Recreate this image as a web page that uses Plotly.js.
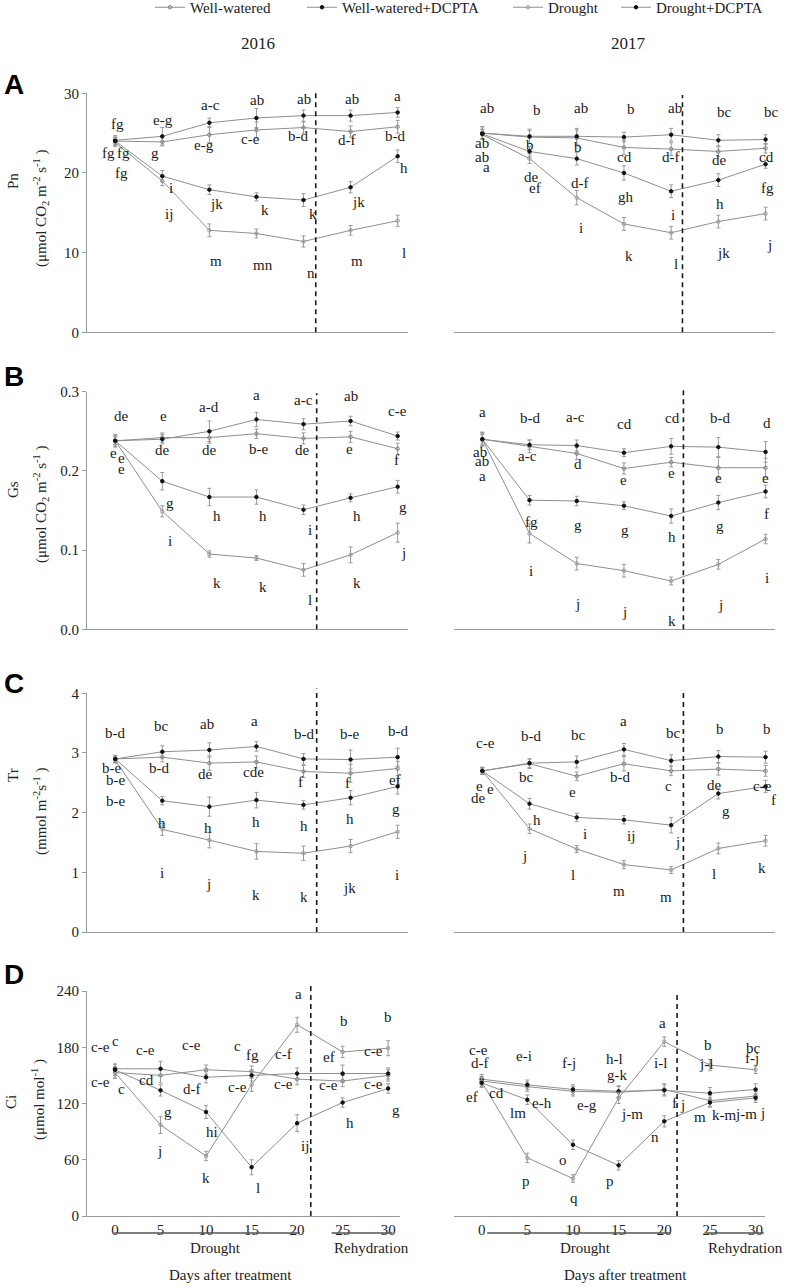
<!DOCTYPE html>
<html><head><meta charset="utf-8">
<script src="https://cdn.plot.ly/plotly-3.0.1.min.js"></script>
<style>html,body{margin:0;padding:0;background:#fff}#chart{width:787px;height:1286px}</style>
</head><body>
<div id="chart"></div>
<script>
// ---------------- DATA ----------------
const days = [0, 5, 10, 15, 20, 25, 30];
const seriesNames = ['Well-watered', 'Well-watered+DCPTA', 'Drought', 'Drought+DCPTA'];
const xTickVals = [0, 5, 10, 15, 20, 25, 30];

// Pn 2016
const Pn2016_WW  = [24.0, 23.9, 24.8, 25.4, 25.7, 25.2, 25.8];
const Pn2016_WWD = [24.1, 24.6, 26.3, 26.9, 27.2, 27.2, 27.6];
const Pn2016_D   = [23.8, 19.0, 12.8, 12.4, 11.4, 12.8, 14.0];
const Pn2016_DD  = [24.0, 19.6, 17.9, 17.0, 16.6, 18.2, 22.1];
const Pn2016_WW_err  = [0.5, 0.5, 1.0, 1.0, 0.7, 0.7, 0.8];
const Pn2016_WWD_err = [0.6, 1.1, 0.6, 1.2, 0.7, 0.7, 0.6];
const Pn2016_D_err   = [0.5, 0.6, 0.8, 0.55, 0.7, 0.6, 0.7];
const Pn2016_DD_err  = [0.5, 0.7, 0.6, 0.5, 0.8, 0.7, 0.8];
const Pn2016_labText = ['fg','fg','fg','fg', 'e-g','g','i','ij', 'a-c','e-g','jk','m', 'ab','c-e','k','mn', 'ab','b-d','k','n', 'ab','d-f','jk','m', 'a','b-d','h','l'];
const Pn2016_labDay  = [0.25,-0.7,0.9,0.7, 5.1,4.2,5.9,5.7, 10.1,9.4,10.8,10.7, 15.1,14.4,15.9,15.7, 20.0,19.4,21.0,20.8, 25.1,24.6,25.8,25.7, 30.0,29.7,30.7,30.7];
const Pn2016_labY    = [26.2,22.5,22.5,20.0, 26.6,22.5,18.1,14.9, 28.5,23.5,16.1,8.9, 29.1,24.3,15.4,8.5, 29.3,24.6,14.9,7.4, 29.3,24.1,16.4,8.9, 29.7,24.6,20.6,10.0];

// Pn 2017
const Pn2017_WW  = [25.0, 24.5, 24.4, 23.2, 23.0, 22.7, 23.1];
const Pn2017_WWD = [25.0, 24.6, 24.6, 24.5, 24.8, 24.1, 24.2];
const Pn2017_D   = [24.8, 21.8, 16.9, 13.6, 12.5, 13.9, 14.9];
const Pn2017_DD  = [24.9, 22.7, 21.8, 20.0, 17.7, 19.1, 21.1];
const Pn2017_WW_err  = [0.8, 0.8, 1.0, 0.9, 0.8, 0.6, 0.6];
const Pn2017_WWD_err = [0.8, 0.9, 1.0, 0.6, 0.8, 0.7, 0.6];
const Pn2017_D_err   = [0.6, 0.6, 0.9, 0.8, 0.8, 0.8, 0.8];
const Pn2017_DD_err  = [0.6, 0.6, 0.8, 0.9, 0.8, 0.8, 0.5];
const Pn2017_labText = ['ab','ab','ab','a', 'b','b','de','ef', 'ab','b','d-f','i', 'b','cd','gh','k', 'ab','d-f','i','l', 'bc','de','h','jk', 'bc','cd','fg','j'];
const Pn2017_labDay  = [0.5,0.0,0.0,0.4, 5.8,5.0,5.2,5.6, 10.5,10.1,10.3,10.5, 15.7,15.1,15.2,15.5, 20.4,20.0,20.2,20.5, 25.7,25.1,25.2,25.5, 30.6,30.1,30.2,30.4];
const Pn2017_labY    = [28.1,23.8,22.0,20.8, 27.9,23.5,19.5,18.1, 28.1,23.2,18.8,13.1, 28.0,22.0,17.0,9.6, 28.1,22.0,14.7,8.6, 27.6,21.6,16.1,10.0, 27.7,22.0,18.1,11.0];

// Gs 2016
const Gs2016_WW  = [0.238, 0.242, 0.242, 0.247, 0.241, 0.243, 0.228];
const Gs2016_WWD = [0.238, 0.240, 0.250, 0.265, 0.259, 0.263, 0.244];
const Gs2016_D   = [0.238, 0.149, 0.095, 0.090, 0.075, 0.094, 0.122];
const Gs2016_DD  = [0.238, 0.187, 0.167, 0.167, 0.151, 0.166, 0.180];
const Gs2016_WW_err  = [0.007, 0.006, 0.007, 0.006, 0.007, 0.007, 0.007];
const Gs2016_WWD_err = [0.008, 0.006, 0.013, 0.009, 0.007, 0.006, 0.005];
const Gs2016_D_err   = [0.005, 0.007, 0.004, 0.003, 0.008, 0.010, 0.012];
const Gs2016_DD_err  = [0.005, 0.011, 0.011, 0.009, 0.006, 0.005, 0.008];
const Gs2016_labText = ['de','e','e','e', 'e','de','g','i', 'a-d','de','h','k', 'a','b-e','h','k', 'a-c','de','i','l', 'ab','e','h','k', 'c-e','f','g','j'];
const Gs2016_labDay  = [0.7,-0.2,0.7,0.7, 5.1,5.0,5.8,5.8, 10.0,10.0,10.8,10.8, 15.0,15.2,15.7,15.7, 20.0,19.9,20.7,20.7, 25.0,24.9,25.7,25.7, 30.0,29.9,30.6,30.6];
const Gs2016_labY    = [0.269,0.223,0.216,0.203, 0.269,0.227,0.160,0.111, 0.281,0.226,0.143,0.058, 0.296,0.228,0.143,0.053, 0.289,0.226,0.125,0.037, 0.294,0.228,0.143,0.058, 0.276,0.214,0.155,0.096];

// Gs 2017
const Gs2017_WW  = [0.240, 0.231, 0.222, 0.203, 0.211, 0.204, 0.204];
const Gs2017_WWD = [0.240, 0.233, 0.232, 0.223, 0.231, 0.230, 0.224];
const Gs2017_D   = [0.240, 0.121, 0.083, 0.074, 0.061, 0.082, 0.114];
const Gs2017_DD  = [0.240, 0.163, 0.162, 0.156, 0.143, 0.160, 0.174];
const Gs2017_WW_err  = [0.008, 0.008, 0.008, 0.007, 0.006, 0.013, 0.012];
const Gs2017_WWD_err = [0.009, 0.006, 0.007, 0.005, 0.010, 0.012, 0.013];
const Gs2017_D_err   = [0.008, 0.012, 0.008, 0.008, 0.005, 0.006, 0.006];
const Gs2017_DD_err  = [0.006, 0.006, 0.006, 0.005, 0.009, 0.009, 0.008];
const Gs2017_labText = ['a','ab','ab','a', 'b-d','a-c','fg','i', 'a-c','d','g','j', 'cd','e','g','j', 'cd','e','h','k', 'b-d','e','g','j', 'd','e','f','i'];
const Gs2017_labDay  = [0,-0.2,0,0, 5.1,4.8,5.2,5.2, 9.9,10.1,10.1,10.1, 15.1,15.0,15.1,15.1, 20.1,20.0,20.1,20.1, 25.2,25.0,25.2,25.2, 30.1,30.0,30.1,30.2];
const Gs2017_labY    = [0.275,0.224,0.212,0.193, 0.267,0.219,0.135,0.073, 0.268,0.209,0.132,0.032, 0.259,0.189,0.125,0.022, 0.267,0.197,0.116,0.011, 0.267,0.191,0.130,0.031, 0.260,0.191,0.146,0.065];

// Tr 2016
const Tr2016_WW  = [2.90, 2.93, 2.83, 2.85, 2.69, 2.66, 2.74];
const Tr2016_WWD = [2.90, 3.02, 3.05, 3.11, 2.90, 2.89, 2.93];
const Tr2016_D   = [2.88, 1.72, 1.54, 1.35, 1.32, 1.44, 1.68];
const Tr2016_DD  = [2.90, 2.20, 2.10, 2.21, 2.13, 2.25, 2.44];
const Tr2016_WW_err  = [0.06, 0.08, 0.12, 0.10, 0.10, 0.15, 0.12];
const Tr2016_WWD_err = [0.06, 0.10, 0.12, 0.08, 0.09, 0.16, 0.15];
const Tr2016_D_err   = [0.05, 0.10, 0.13, 0.13, 0.12, 0.11, 0.11];
const Tr2016_DD_err  = [0.05, 0.07, 0.16, 0.13, 0.07, 0.12, 0.13];
const Tr2016_labText = ['b-d','b-e','b-e','b-e', 'bc','b-d','h','i', 'ab','de','h','j', 'a','cde','h','k', 'b-d','f','h','k', 'b-e','f','h','jk', 'b-d','ef','g','i'];
const Tr2016_labDay  = [0,-0.4,0,0, 4.9,4.7,5.0,5.0, 9.8,9.6,9.9,9.9, 14.8,14.7,14.9,14.9, 20.0,19.7,20.0,20.0, 24.9,24.7,24.9,24.9, 30.0,29.7,29.8,29.9];
const Tr2016_labY    = [3.33,2.74,2.54,2.20, 3.45,2.74,1.83,0.99, 3.48,2.64,1.75,0.80, 3.53,2.68,1.85,0.62, 3.32,2.52,1.77,0.59, 3.32,2.50,1.89,0.73, 3.37,2.55,2.06,0.96];

// Tr 2017
const Tr2017_WW  = [2.70, 2.82, 2.61, 2.82, 2.70, 2.73, 2.70];
const Tr2017_WWD = [2.70, 2.83, 2.85, 3.06, 2.87, 2.94, 2.93];
const Tr2017_D   = [2.70, 1.73, 1.39, 1.13, 1.04, 1.40, 1.53];
const Tr2017_DD  = [2.70, 2.15, 1.92, 1.88, 1.79, 2.32, 2.44];
const Tr2017_WW_err  = [0.06, 0.08, 0.07, 0.12, 0.08, 0.10, 0.09];
const Tr2017_WWD_err = [0.06, 0.07, 0.10, 0.10, 0.10, 0.10, 0.10];
const Tr2017_D_err   = [0.05, 0.08, 0.06, 0.07, 0.06, 0.09, 0.09];
const Tr2017_DD_err  = [0.05, 0.09, 0.07, 0.07, 0.13, 0.09, 0.10];
const Tr2017_labText = ['c-e','e','e','de', 'b-d','bc','h','j', 'bc','e','i','l', 'a','b-d','ij','m', 'bc','c','j','m', 'b','de','g','l', 'b','c-e','f','k'];
const Tr2017_labDay  = [0.3,-0.3,0.9,-0.4, 5.2,4.7,5.8,4.5, 10.2,9.6,10.9,9.6, 15.0,14.6,15.8,14.5, 20.2,19.7,20.7,19.5, 25.2,24.6,25.8,24.5, 30.1,29.7,30.8,29.6];
const Tr2017_labY    = [3.17,2.44,2.40,2.24, 3.29,2.59,1.88,1.27, 3.30,2.35,1.65,0.96, 3.53,2.59,1.61,0.68, 3.33,2.44,1.51,0.59, 3.40,2.47,2.03,0.97, 3.40,2.45,2.21,1.07];

// Ci 2016
const Ci2016_WW  = [153, 150, 156, 154, 146, 144, 150];
const Ci2016_WWD = [157, 157, 148, 150, 152, 152, 152];
const Ci2016_D   = [153, 97, 64, 140, 204, 175, 179];
const Ci2016_DD  = [156, 134, 111, 52, 99, 121, 136];
const Ci2016_WW_err  = [6, 8, 5, 6, 6, 6, 6];
const Ci2016_WWD_err = [5, 8, 6, 6, 6, 9, 6];
const Ci2016_D_err   = [6, 9, 5, 7, 8, 6, 8];
const Ci2016_DD_err  = [6, 6, 7, 8, 9, 5, 5];
const Ci2016_labText = ['c-e','c','c-e','c', 'c-e','cd','g','j', 'c-e','d-f','hi','k', 'c','fg','c-e','l', 'a','c-f','c-e','ij', 'b','ef','c-e','h', 'b','c-e','c-e','g'];
const Ci2016_labDay  = [-1.6,0,-1.6,0.7, 3.3,3.5,5.8,4.9, 8.4,8.5,10.7,10.0, 13.4,15.1,13.5,15.7, 20.1,18.5,18.5,20.9, 25.1,23.5,23.5,25.8, 30.0,28.4,28.4,30.9];
const Ci2016_labY    = [180.6,186.7,143.3,135.5, 177.1,145.1,111.3,69.7, 182.4,135.1,89.2,40.2, 181.3,171.7,137.2,29.5, 236.4,172.8,140.8,74.7, 208.4,170.0,139.7,99.6, 211.9,176.4,140.8,113.1];

// Ci 2017
const Ci2017_WW  = [144, 138, 133, 132, 135, 123, 128];
const Ci2017_WWD = [146, 140, 135, 133, 134, 131, 135];
const Ci2017_D   = [143, 62, 40, 126, 186, 161, 156];
const Ci2017_DD  = [142, 124, 76, 54, 101, 121, 126];
const Ci2017_WW_err  = [5, 5, 5, 6, 6, 6, 5];
const Ci2017_WWD_err = [5, 5, 5, 6, 6, 6, 6];
const Ci2017_D_err   = [5, 5, 4, 6, 5, 6, 4];
const Ci2017_DD_err  = [5, 5, 5, 5, 6, 5, 5];
const Ci2017_labText = ['c-e','d-f','ef','cd', 'e-i','e-h','lm','p', 'f-j','e-g','o','q', 'h-l','g-k','j-m','p', 'a','i-l','f','j','n', 'b','j-l','m','k-m', 'bc','f-j','j-m','j'];
const Ci2017_labDay  = [-0.4,-0.2,-1.1,1.6, 4.6,6.6,4.0,4.9, 9.6,11.5,8.9,10.1, 14.6,14.8,16.5,14.0, 19.8,19.6,21.1,22.0,19.0, 24.8,24.6,23.9,26.5, 29.75,29.6,28.9,30.8];
const Ci2017_labY    = [177.1,163.6,127.3,130.8, 170.7,120.9,109.5,37.7, 163.6,118.4,59.7,18.8, 167.1,150.4,108.4,37.7, 206.2,163.6,120.5,118.4,84.6, 182.4,162.1,105.2,107.7, 178.8,168.2,108.8,109.5];

// ---------------- LAYOUT / STYLE ----------------
const W = 787, H = 1286;
const SERIF = 'Liberation Serif';
const SANS = 'Liberation Sans';
const px2x = p => p / W;
const px2y = p => 1 - p / H;

const panels = [
  {vals:[Pn2016_WW,Pn2016_WWD,Pn2016_D,Pn2016_DD], errs:[Pn2016_WW_err,Pn2016_WWD_err,Pn2016_D_err,Pn2016_DD_err], lab:[Pn2016_labText,Pn2016_labDay,Pn2016_labY],
   xpx:[87,408], ypx:[93.3,332.3], xr:[-3.0,31.1], yr:[0,30], dtick:10, fmt:'', left:true, bottom:false, dashDay:21.3, dashTop:30},
  {vals:[Pn2017_WW,Pn2017_WWD,Pn2017_D,Pn2017_DD], errs:[Pn2017_WW_err,Pn2017_WWD_err,Pn2017_D_err,Pn2017_DD_err], lab:[Pn2017_labText,Pn2017_labDay,Pn2017_labY],
   xpx:[454,775], ypx:[93.3,332.3], xr:[-3.0,31.0], yr:[0,30], dtick:10, fmt:'', left:false, bottom:false, dashDay:21.2, dashTop:29.8},
  {vals:[Gs2016_WW,Gs2016_WWD,Gs2016_D,Gs2016_DD], errs:[Gs2016_WW_err,Gs2016_WWD_err,Gs2016_D_err,Gs2016_DD_err], lab:[Gs2016_labText,Gs2016_labDay,Gs2016_labY],
   xpx:[87,408], ypx:[391.7,629.3], xr:[-3.0,31.1], yr:[0,0.3], dtick:0.1, fmt:'.1f', left:true, bottom:false, dashDay:21.4, dashTop:0.298},
  {vals:[Gs2017_WW,Gs2017_WWD,Gs2017_D,Gs2017_DD], errs:[Gs2017_WW_err,Gs2017_WWD_err,Gs2017_D_err,Gs2017_DD_err], lab:[Gs2017_labText,Gs2017_labDay,Gs2017_labY],
   xpx:[454,775], ypx:[391.7,629.3], xr:[-3.0,31.0], yr:[0,0.3], dtick:0.1, fmt:'.1f', left:false, bottom:false, dashDay:21.3, dashTop:0.305},
  {vals:[Tr2016_WW,Tr2016_WWD,Tr2016_D,Tr2016_DD], errs:[Tr2016_WW_err,Tr2016_WWD_err,Tr2016_D_err,Tr2016_DD_err], lab:[Tr2016_labText,Tr2016_labDay,Tr2016_labY],
   xpx:[87,408], ypx:[693.3,932], xr:[-3.0,31.1], yr:[0,4], dtick:1, fmt:'', left:true, bottom:false, dashDay:21.4, dashTop:4.08},
  {vals:[Tr2017_WW,Tr2017_WWD,Tr2017_D,Tr2017_DD], errs:[Tr2017_WW_err,Tr2017_WWD_err,Tr2017_D_err,Tr2017_DD_err], lab:[Tr2017_labText,Tr2017_labDay,Tr2017_labY],
   xpx:[454,775], ypx:[693.3,932], xr:[-3.0,31.0], yr:[0,4], dtick:1, fmt:'', left:false, bottom:false, dashDay:21.3, dashTop:4.06},
  {vals:[Ci2016_WW,Ci2016_WWD,Ci2016_D,Ci2016_DD], errs:[Ci2016_WW_err,Ci2016_WWD_err,Ci2016_D_err,Ci2016_DD_err], lab:[Ci2016_labText,Ci2016_labDay,Ci2016_labY],
   xpx:[87,400], ypx:[991,1216], xr:[-3.08,31.3], yr:[0,240], dtick:60, fmt:'', left:true, bottom:true, dashDay:21.5, dashTop:249.6},
  {vals:[Ci2017_WW,Ci2017_WWD,Ci2017_D,Ci2017_DD], errs:[Ci2017_WW_err,Ci2017_WWD_err,Ci2017_D_err,Ci2017_DD_err], lab:[Ci2017_labText,Ci2017_labDay,Ci2017_labY],
   xpx:[454,765], ypx:[991,1216], xr:[-3.03,31.03], yr:[0,240], dtick:60, fmt:'', left:false, bottom:true, dashDay:21.4, dashTop:235.7}
];

const LINE_COLOR = '#8f8f8f';
const styles = [
  {symbol:'circle-open', color:'#808080', size:3.5},
  {symbol:'circle', color:'#111111', size:3.5},
  {symbol:'circle-open', color:'#9a9a9a', size:3.5},
  {symbol:'circle', color:'#111111', size:3.5}
];
const legendIds = ['legend','legend2','legend3','legend4'];
const legendX = [150, 302, 508, 616];

const traces = [];
const annotations = [];
const shapes = [];
const layout = {
  width: W, height: H,
  margin: {l:0, r:0, t:0, b:0, autoexpand: false},
  paper_bgcolor: '#fff', plot_bgcolor: 'rgba(0,0,0,0)',
  showlegend: true,
  font: {family: SERIF, size: 15, color: '#222'}
};

legendIds.forEach((id, i) => {
  layout[id] = {
    x: px2x(legendX[i]), xanchor: 'left', y: 1 + 9 / H, yanchor: 'top',
    orientation: 'h', bgcolor: 'rgba(0,0,0,0)', borderwidth: 0,
    font: {family: SERIF, size: 15, color: '#222'}
  };
});

function paperX(p, v) {
  const d0 = px2x(p.xpx[0]), d1 = px2x(p.xpx[1]);
  return d0 + (v - p.xr[0]) / (p.xr[1] - p.xr[0]) * (d1 - d0);
}
function paperY(p, v) {
  const d0 = px2y(p.ypx[1]), d1 = px2y(p.ypx[0]);
  return d0 + (v - p.yr[0]) / (p.yr[1] - p.yr[0]) * (d1 - d0);
}

panels.forEach((p, k) => {
  const n = k + 1;
  const xa = n === 1 ? 'x' : 'x' + n;
  const ya = n === 1 ? 'y' : 'y' + n;
  const xKey = n === 1 ? 'xaxis' : 'xaxis' + n;
  const yKey = n === 1 ? 'yaxis' : 'yaxis' + n;
  layout[xKey] = {
    domain: [px2x(p.xpx[0]), px2x(p.xpx[1])], range: p.xr, anchor: ya,
    showline: true, linecolor: '#9a9a9a', linewidth: 1.2,
    showgrid: false, zeroline: false, ticks: '',
    showticklabels: p.bottom, tickvals: xTickVals,
    tickfont: {family: SERIF, size: 15, color: '#222'}
  };
  layout[yKey] = {
    domain: [px2y(p.ypx[1]), px2y(p.ypx[0])], range: p.yr, anchor: xa,
    visible: p.left,
    showline: true, linecolor: '#9a9a9a', linewidth: 1.2,
    showgrid: false, zeroline: false,
    ticks: 'outside', ticklen: 4, tickcolor: '#9a9a9a',
    dtick: p.dtick, tick0: 0, tickformat: p.fmt,
    tickfont: {family: SERIF, size: 15, color: '#222'}
  };
  p.vals.forEach((v, s) => {
    const st = styles[s];
    traces.push({
      type: 'scatter', mode: 'lines+markers',
      x: days, y: v, xaxis: xa, yaxis: ya,
      name: seriesNames[s],
      legend: legendIds[s],
      showlegend: k === 0,
      cliponaxis: false,
      line: {color: LINE_COLOR, width: 1},
      marker: {symbol: st.symbol, color: st.color, size: st.size, line: {color: st.color, width: 1}},
      error_y: {type: 'data', array: p.errs[s], visible: true, color: '#9a9a9a', thickness: 1, width: 2}
    });
  });
  const [txt, dx, dy] = p.lab;
  txt.forEach((t, i) => {
    annotations.push({
      xref: xa, yref: ya, x: dx[i], y: dy[i], text: t, showarrow: false,
      xanchor: 'center', yanchor: 'middle',
      font: {family: SERIF, size: 15, color: '#1a1a1a'}
    });
  });
  // rehydration start: dashed line
  const xd = paperX(p, p.dashDay);
  shapes.push({
    type: 'line', xref: 'paper', yref: 'paper',
    x0: xd, x1: xd, y0: paperY(p, 0), y1: paperY(p, p.dashTop),
    line: {color: '#1a1a1a', width: 1.6, dash: '5px,4px'}
  });
});

// period underlines and labels under the bottom panels
const periods = [
  {panel: 6, drought: [-0.1, 20.3], rehyd: [23.8, 30.5], dLab: 11.0, rLab: 28.2, daysLab: 12.7},
  {panel: 7, drought: [0.6, 20.7], rehyd: [24.5, 30.9], dLab: 11.4, rLab: 28.9, daysLab: 15.8}
];
periods.forEach(q => {
  const p = panels[q.panel];
  const xa = 'x' + (q.panel + 1);
  [q.drought, q.rehyd].forEach(seg => {
    shapes.push({type: 'line', xref: 'paper', yref: 'paper',
      x0: paperX(p, seg[0]), x1: paperX(p, seg[1]), y0: px2y(1233), y1: px2y(1233),
      line: {color: '#555', width: 1.6}});
  });
  annotations.push({xref: xa, yref: 'paper', x: q.dLab, y: px2y(1248), text: 'Drought', showarrow: false,
    xanchor: 'center', yanchor: 'middle', font: {family: SERIF, size: 15, color: '#222'}});
  annotations.push({xref: xa, yref: 'paper', x: q.rLab, y: px2y(1248), text: 'Rehydration', showarrow: false,
    xanchor: 'center', yanchor: 'middle', font: {family: SERIF, size: 15, color: '#222'}});
  annotations.push({xref: xa, yref: 'paper', x: q.daysLab, y: px2y(1275), text: 'Days after treatment', showarrow: false,
    xanchor: 'center', yanchor: 'middle', font: {family: SERIF, size: 15, color: '#222'}});
});

// year headers
[['2016', 258], ['2017', 628]].forEach(([t, x]) => {
  annotations.push({xref: 'paper', yref: 'paper', x: px2x(x), y: px2y(43), text: t, showarrow: false,
    xanchor: 'center', yanchor: 'middle', font: {family: SERIF, size: 17, color: '#222'}});
});

// panel letters
[['A', 85], ['B', 376], ['C', 683], ['D', 974]].forEach(([t, y]) => {
  annotations.push({xref: 'paper', yref: 'paper', x: px2x(14), y: px2y(y), text: '<b>' + t + '</b>', showarrow: false,
    xanchor: 'center', yanchor: 'middle', font: {family: SANS, size: 28, color: '#000'}});
});

// y-axis titles
const yTitles = [
  {name: 'Pn', unit: '(\u03bcmol CO<sub>2</sub> m<sup>-2</sup> s<sup>-1</sup> )', ny: 181, uy: 209, nx: 13, ux: 41},
  {name: 'Gs', unit: '(\u03bcmol CO<sub>2</sub> m<sup>-2</sup> s<sup>-1</sup> )', ny: 490, uy: 505, nx: 13, ux: 41},
  {name: 'Tr', unit: '(mmol m<sup>-2</sup>s<sup>-1</sup> )', ny: 775, uy: 811, nx: 13, ux: 41},
  {name: 'Ci', unit: '(\u03bcmol mol<sup>-1</sup> )', ny: 1102, uy: 1100, nx: 11, ux: 38}
];
yTitles.forEach(t => {
  annotations.push({xref: 'paper', yref: 'paper', x: px2x(t.nx), y: px2y(t.ny), text: t.name, textangle: -90, showarrow: false,
    xanchor: 'center', yanchor: 'middle', font: {family: SERIF, size: 15, color: '#222'}});
  annotations.push({xref: 'paper', yref: 'paper', x: px2x(t.ux), y: px2y(t.uy), text: t.unit, textangle: -90, showarrow: false,
    xanchor: 'center', yanchor: 'middle', font: {family: SERIF, size: 15, color: '#222'}});
});

layout.annotations = annotations;
layout.shapes = shapes;

Plotly.newPlot('chart', traces, layout, {displayModeBar: false});
</script>
</body></html>
